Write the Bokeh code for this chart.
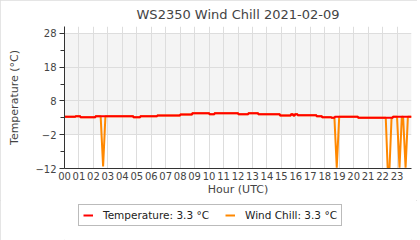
from bokeh.plotting import figure
from bokeh.layouts import column
from bokeh.models import Range1d, BoxAnnotation, Legend, LegendItem, FixedTicker
from bokeh.embed import file_html
from bokeh.resources import INLINE

# ---------------- data ----------------
title_text = "WS2350 Wind Chill 2021-02-09"
hour_ticks = list(range(24))
hour_labels = [f"{h:02d}" for h in hour_ticks]
temp_ticks = [28, 18, 8, -2, -12]
temp_minor_ticks = [23, 13, 3, -7]

# temperature: hour at which each reading level starts, and its value (°C)
temp_start = [0.00, 0.76, 1.10, 2.14, 4.76, 5.24, 6.41, 8.00, 8.83, 10.02,
              10.37, 12.02, 12.71, 13.40, 14.90, 15.66, 15.81, 15.93, 16.12,
              17.43, 17.81, 18.46, 18.69, 20.30, 22.71]
temp_value = [3.3, 3.5, 3.2, 3.5, 3.2, 3.5, 3.7, 4.0, 4.4, 4.1,
              4.4, 4.1, 4.4, 4.1, 3.7, 4.1, 3.7, 4.1, 3.8,
              3.5, 3.2, 3.0, 3.3, 3.0, 3.3]
end_hour = 24.0

# wind chill dips (elsewhere wind chill equals temperature)
dip_start = [2.50, 18.67, 22.22, 23.00, 23.42]
dip_low_hours = [[2.67], [18.83], [22.35, 22.48], [23.17], [23.59]]
dip_low_values = [[-11.4], [-11.8], [-11.8, -11.8], [-11.8], [-11.8]]
dip_end = [2.83, 19.00, 22.62, 23.33, 23.75]

current_temp = 3.3
current_chill = 3.3

# ---------------- build paths ----------------
tx, ty = [], []
for i, (s, v) in enumerate(zip(temp_start, temp_value)):
    e = temp_start[i + 1] if i + 1 < len(temp_start) else end_hour
    tx += [s, e]
    ty += [v, v]


def temp_at(h):
    val = temp_value[0]
    for s, v in zip(temp_start, temp_value):
        if s <= h:
            val = v
    return val


pts = []
for x, y in zip(tx, ty):
    if not any(a < x < b for a, b in zip(dip_start, dip_end)):
        pts.append((x, y))
for a, lh, lv, b in zip(dip_start, dip_low_hours, dip_low_values, dip_end):
    pts.append((a, temp_at(a)))
    pts += list(zip(lh, lv))
    pts.append((b, temp_at(b)))
order = sorted(range(len(pts)), key=lambda k: (pts[k][0], k))
wx = [pts[k][0] for k in order]
wy = [pts[k][1] for k in order]

# ---------------- figure ----------------
FONT = "DejaVu Sans"
TXT = "#444444"
RED = "#ff0000"
ORANGE = "#ff8800"
W = 417

p = figure(width=W, height=200, output_backend="svg", toolbar_location=None,
           x_range=Range1d(0, 24), y_range=Range1d(-12, 30.06),
           min_border_left=64, min_border_right=6, min_border_top=25,
           min_border_bottom=32)
p.outline_line_color = None
p.background_fill_color = "white"

p.title.text = title_text
p.title.align = "center"
p.title.offset = -29
p.title.standoff = 9
p.title.text_font = FONT
p.title.text_font_size = "13px"
p.title.text_font_style = "normal"
p.title.text_color = TXT

band = BoxAnnotation(bottom=-2, top=28, fill_color="#f4f4f4", fill_alpha=1,
                     line_alpha=0, level="image")
p.add_layout(band)

for g in (p.xgrid, p.ygrid):
    g.grid_line_color = "#dddddd"
    g.grid_line_width = 1

p.xaxis.ticker = FixedTicker(ticks=hour_ticks)
p.xaxis.major_label_overrides = dict(zip(hour_ticks, hour_labels))
p.xaxis.major_tick_out = 0
p.xaxis.major_tick_in = 0
p.xaxis.minor_tick_out = 0
p.xaxis.minor_tick_in = 0
p.xaxis.major_label_standoff = 3
p.xaxis.axis_label = "Hour (UTC)"
p.xaxis.axis_label_standoff = 0

p.yaxis.ticker = FixedTicker(ticks=temp_ticks, minor_ticks=temp_minor_ticks)
p.yaxis.major_tick_out = 5
p.yaxis.major_tick_in = 0
p.yaxis.minor_tick_out = 4
p.yaxis.minor_tick_in = 0
p.yaxis.major_label_standoff = 3
p.yaxis.axis_label = "Temperature (°C)"
p.yaxis.axis_label_standoff = 11

for ax in (p.xaxis, p.yaxis):
    ax.axis_line_color = "#333333"
    ax.major_tick_line_color = "#333333"
    ax.minor_tick_line_color = "#333333"
    ax.major_label_text_font = FONT
    ax.major_label_text_font_size = "10px"
    ax.major_label_text_color = TXT
    ax.axis_label_text_font = FONT
    ax.axis_label_text_font_size = "11px"
    ax.axis_label_text_font_style = "normal"
    ax.axis_label_text_color = TXT

p.line(wx, wy, line_color=ORANGE, line_width=2)
p.line(tx, ty, line_color=RED, line_width=2)

# ---------------- legend strip (same series, ranges keep them out of view) ----
lg = figure(width=W, height=40, output_backend="svg", toolbar_location=None,
            x_axis_type=None, y_axis_type=None,
            x_range=Range1d(0, 24), y_range=Range1d(100, 101),
            min_border_left=64, min_border_right=6, min_border_top=0,
            min_border_bottom=0)
lg.outline_line_color = None
lg.grid.visible = False
sw_chill = lg.line(wx, wy, line_color=ORANGE, line_width=2)
sw_temp = lg.line(tx, ty, line_color=RED, line_width=2)

legend = Legend(items=[
    LegendItem(label=f"Temperature: {current_temp} °C", renderers=[sw_temp]),
    LegendItem(label=f"Wind Chill: {current_chill} °C", renderers=[sw_chill]),
], orientation="horizontal", location=(14, 14))
legend.label_text_font = FONT
legend.label_text_font_size = "10.5px"
legend.label_text_color = "#222222"
legend.glyph_width = 10
legend.glyph_height = 12
legend.label_standoff = 10
legend.spacing = 16
legend.padding = 4
legend.margin = 0
legend.border_line_color = "#777777"
legend.border_line_width = 1
legend.background_fill_alpha = 1
lg.add_layout(legend)

layout = column(p, lg, spacing=0,
                styles={"outline": "1px solid #dddddd", "outline-offset": "-1px"})
open("out.html", "w").write(file_html(layout, INLINE))
